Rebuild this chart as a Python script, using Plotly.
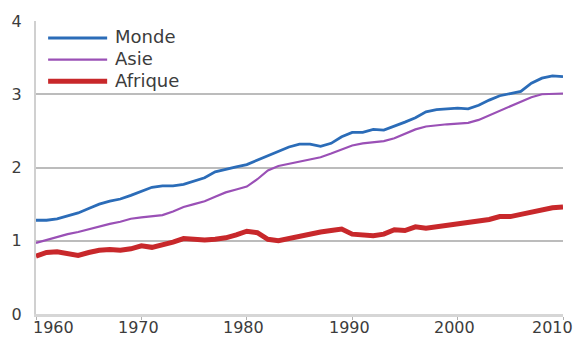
import plotly.graph_objects as go

years = list(range(1960, 2011))

monde = [1.28, 1.28, 1.30, 1.34, 1.38, 1.44, 1.50, 1.54, 1.57, 1.62,
         1.67, 1.73, 1.75, 1.75, 1.77, 1.81, 1.86, 1.94, 1.98, 2.01,
         2.04, 2.10, 2.15, 2.21, 2.28, 2.32, 2.32, 2.29, 2.33, 2.42,
         2.48, 2.48, 2.52, 2.51, 2.56, 2.62, 2.68, 2.76, 2.79, 2.80,
         2.81, 2.80, 2.85, 2.92, 2.98, 3.01, 3.04, 3.15, 3.22, 3.25,
         3.24]

asie = [0.97, 1.01, 1.06, 1.09, 1.12, 1.16, 1.20, 1.23, 1.26, 1.30,
        1.32, 1.34, 1.35, 1.40, 1.46, 1.50, 1.54, 1.60, 1.66, 1.70,
        1.74, 1.84, 1.96, 2.02, 2.05, 2.07, 2.10, 2.14, 2.19, 2.25,
        2.30, 2.33, 2.34, 2.36, 2.40, 2.46, 2.52, 2.56, 2.58, 2.59,
        2.60, 2.61, 2.65, 2.71, 2.78, 2.84, 2.90, 2.96, 3.00, 3.01,
        3.01]

afrique = [0.79, 0.84, 0.85, 0.83, 0.80, 0.84, 0.87, 0.88, 0.87, 0.89,
           0.93, 0.91, 0.94, 0.98, 1.03, 1.02, 1.01, 1.02, 1.04, 1.08,
           1.13, 1.11, 1.02, 1.00, 1.03, 1.07, 1.09, 1.12, 1.14, 1.16,
           1.09, 1.08, 1.07, 1.09, 1.15, 1.14, 1.19, 1.17, 1.19, 1.21,
           1.23, 1.25, 1.27, 1.29, 1.33, 1.33, 1.36, 1.39, 1.42, 1.45,
           1.46]

series_names = ["Monde", "Asie", "Afrique"]
series_values = [monde, asie, afrique]
series_colors = ["#2b6cb8", "#9a50b6", "#c8282b"]
series_widths = [2.8, 2.2, 5.0]

x_tick_vals = [1960, 1970, 1980, 1990, 2000, 2010]
x_tick_text = ["1960", "1970", "1980", "1990", "2000", "2010"]
y_tick_vals = [0, 1, 2, 3, 4]
y_tick_text = ["0", "1", "2", "3", "4"]

FONT = "DejaVu Sans"
TEXT_COLOR = "#3c3c3c"

fig = go.Figure()
for name, vals, col, w in zip(series_names, series_values, series_colors, series_widths):
    fig.add_trace(go.Scatter(x=years, y=vals, mode="lines", name=name,
                             line=dict(color=col, width=w, shape="linear"),
                             showlegend=False, hoverinfo="skip"))

# manual legend
legend_y = [0.942, 0.868, 0.794]
shapes = []
annotations = []
for name, col, w, ly in zip(series_names, series_colors, series_widths, legend_y):
    shapes.append(dict(type="line", xref="paper", yref="paper",
                       x0=0.023, x1=0.135, y0=ly, y1=ly,
                       line=dict(color=col, width=w)))
    annotations.append(dict(xref="paper", yref="paper", x=0.148, y=ly,
                            text=name, showarrow=False, xanchor="left",
                            yanchor="middle", borderpad=0, yshift=1,
                            font=dict(family=FONT, size=18, color=TEXT_COLOR)))

# x tick labels (ends kept inside the picture)
for i, (v, t) in enumerate(zip(x_tick_vals, x_tick_text)):
    if i == 0:
        anchor, shift = "left", -4
    elif i == len(x_tick_vals) - 1:
        anchor, shift = "right", 11
    else:
        anchor, shift = "center", -3
    annotations.append(dict(xref="x", yref="paper", x=v, y=0, text=t,
                            showarrow=False, xanchor=anchor, yanchor="top",
                            xshift=shift, yshift=-3, borderpad=0,
                            font=dict(family=FONT, size=16, color=TEXT_COLOR)))

fig.update_layout(
    width=576, height=338,
    margin=dict(l=36, r=13, t=19, b=24),
    paper_bgcolor="white", plot_bgcolor="white",
    shapes=shapes, annotations=annotations,
    font=dict(family=FONT, color=TEXT_COLOR),
    hovermode=False,
)
fig.update_xaxes(range=[1960, 2010], tickvals=x_tick_vals, showticklabels=False,
                 showgrid=False, zeroline=False,
                 showline=True, linecolor="#d6d6d6", linewidth=2.5,
                 ticks="outside", ticklen=3, tickcolor="#b0b0b0", tickwidth=1)
fig.update_yaxes(range=[0, 4], tickvals=y_tick_vals, ticktext=y_tick_text,
                 showgrid=True, gridcolor="#bcbcbc", gridwidth=1.5,
                 zeroline=False, showline=True, linecolor="#d0d0d0", linewidth=2,
                 ticks="", ticklabelstandoff=9,
                 tickfont=dict(family=FONT, size=16, color=TEXT_COLOR))

fig.write_html("out.html", config={"displayModeBar": False},
               post_script="document.body.style.margin='0';document.body.style.overflow='hidden';")
